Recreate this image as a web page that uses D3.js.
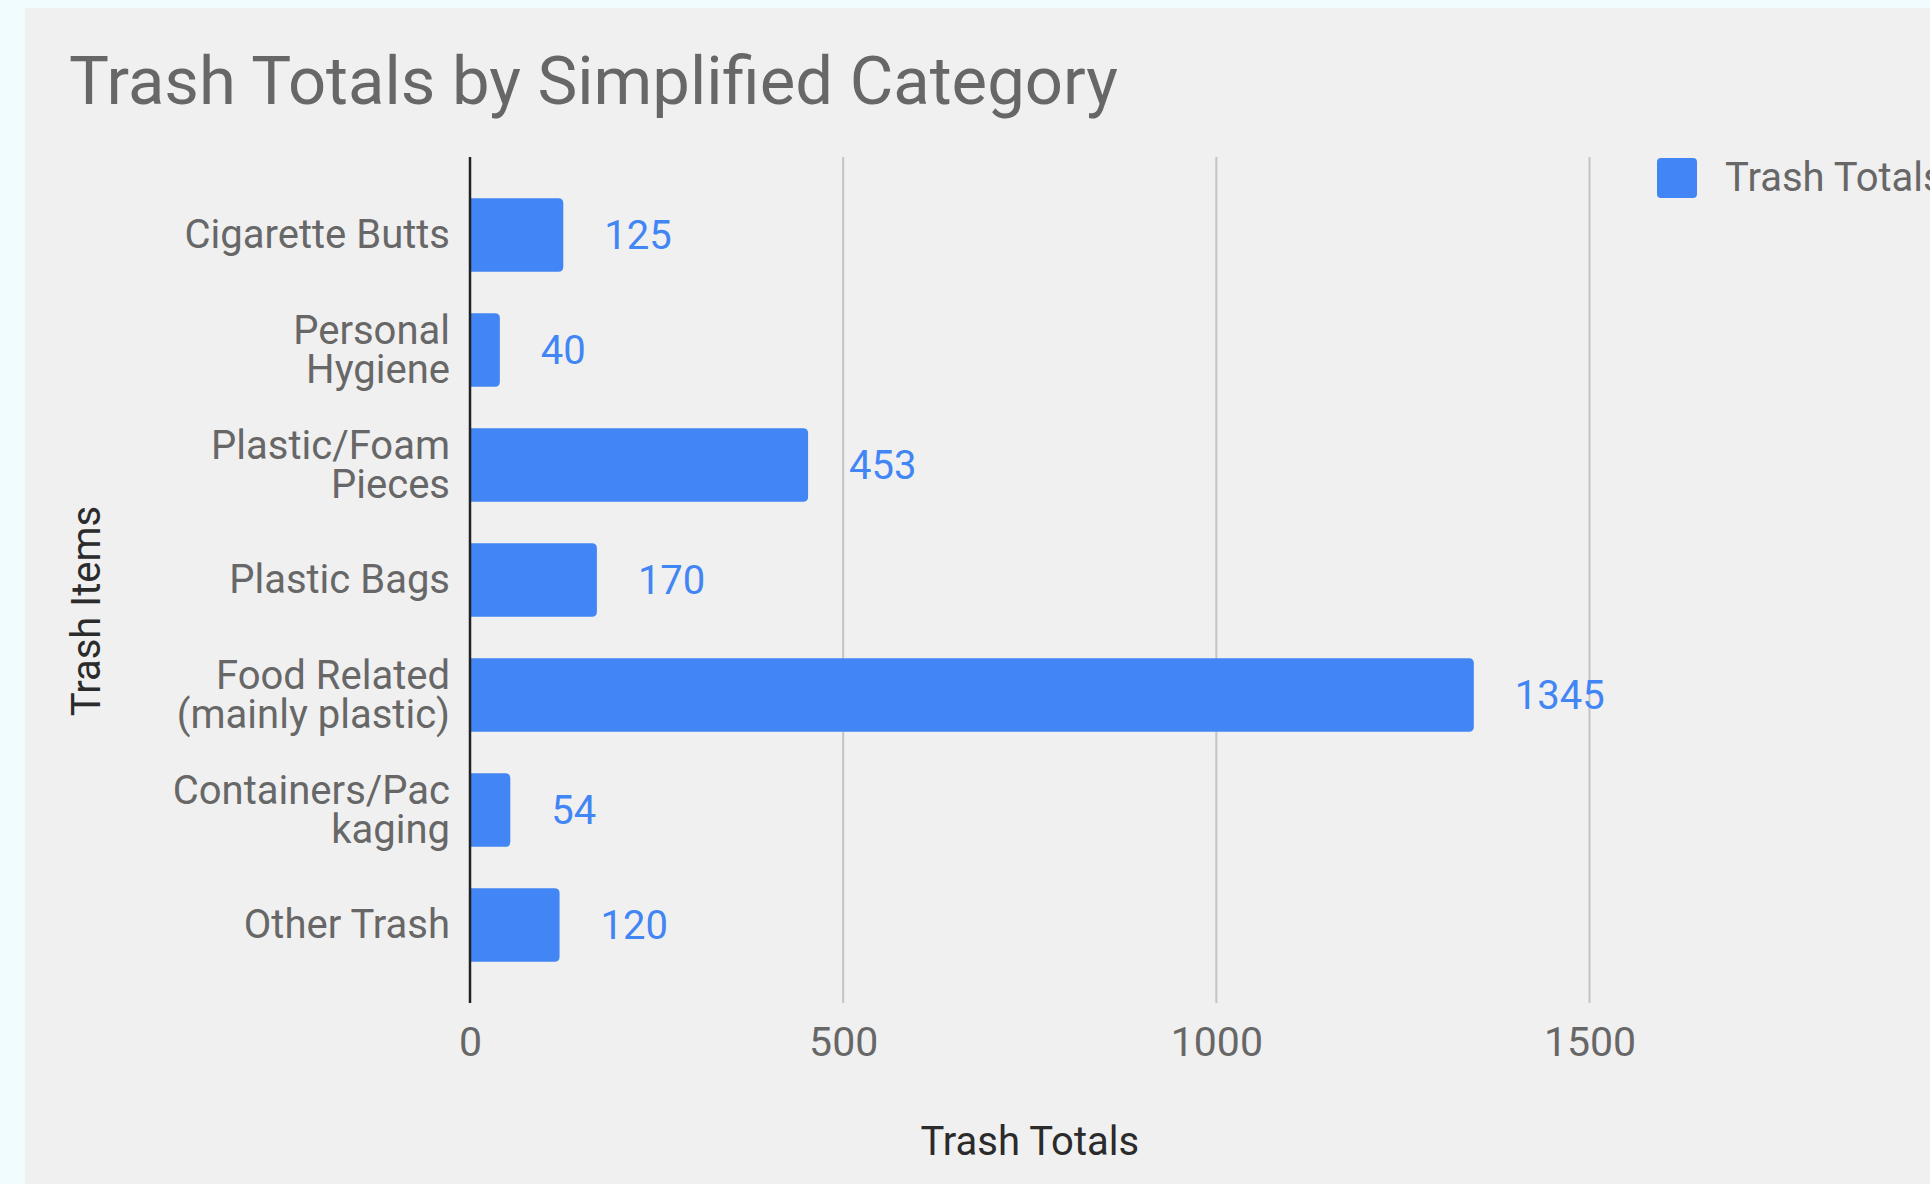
<!DOCTYPE html>
<html>
<head>
<meta charset="utf-8">
<script src="https://d3js.org/d3.v7.min.js"></script>
<style>
  html, body { margin: 0; padding: 0; background: #f1fcfe; }
  svg { display: block; font-family: Roboto, "Noto Sans", sans-serif; }
</style>
</head>
<body>
<script>
const categories = [
  ["Cigarette Butts"],
  ["Personal", "Hygiene"],
  ["Plastic/Foam", "Pieces"],
  ["Plastic Bags"],
  ["Food Related", "(mainly plastic)"],
  ["Containers/Pac", "kaging"],
  ["Other Trash"]
];
const values = [125, 40, 453, 170, 1345, 54, 120];
const xTicks = [0, 500, 1000, 1500];
const seriesName = "Trash Totals";
const titleText = "Trash Totals by Simplified Category";
const xTitle = "Trash Totals";
const yTitle = "Trash Items";

const W = 1930, H = 1184;
const blue = "#4285f4";
const svg = d3.select("body").append("svg").attr("width", W).attr("height", H);

svg.append("rect").attr("x", 25).attr("y", 8).attr("width", W - 25).attr("height", H - 8).attr("fill", "#f0f0f0");

const x = d3.scaleLinear().domain([0, 1500]).range([470, 1589.5]);
const keys = categories.map((c, i) => i);
const y = d3.scaleBand().domain(keys).range([177.5, 982.5]).paddingInner(0.36).paddingOuter(0.18);
const plotTop = 157, plotBottom = 1003;

// title
svg.append("text").attr("x", 69).attr("y", 104).attr("font-size", 67).attr("fill", "#676767").text(titleText);

// gridlines
svg.append("g").selectAll("line").data(xTicks.filter(t => t > 0)).join("line")
  .attr("x1", d => x(d)).attr("x2", d => x(d))
  .attr("y1", plotTop).attr("y2", plotBottom)
  .attr("stroke", "#c4c4c4").attr("stroke-width", 2);

// x tick labels via axis
const xAxis = d3.axisBottom(x).tickValues(xTicks).tickSize(0).tickPadding(0).tickFormat(d3.format("d"));
const gx = svg.append("g").attr("transform", `translate(0,${plotBottom})`).call(xAxis);
gx.select(".domain").remove();
gx.selectAll("text").attr("font-size", 41).attr("fill", "#676767").attr("font-family", "Roboto")
  .attr("dy", null).attr("y", 53);

// bars
const r = 5;
function barPath(x0, x1, y0, h) {
  const rr = Math.min(r, (x1 - x0));
  return `M${x0},${y0} H${x1 - rr} Q${x1},${y0} ${x1},${y0 + rr} V${y0 + h - rr} Q${x1},${y0 + h} ${x1 - rr},${y0 + h} H${x0} Z`;
}
svg.append("g").selectAll("path").data(values).join("path")
  .attr("d", (d, i) => barPath(x(0), x(d), y(i), y.bandwidth()))
  .attr("fill", blue);

// value labels
svg.append("g").selectAll("text").data(values).join("text")
  .attr("x", d => x(d) + 41)
  .attr("y", (d, i) => y(i) + y.bandwidth() / 2 + 14)
  .attr("font-size", 40).attr("fill", blue).text(d => d);

// axis line (y)
svg.append("line").attr("x1", x(0)).attr("x2", x(0)).attr("y1", plotTop).attr("y2", plotBottom)
  .attr("stroke", "#222").attr("stroke-width", 2.5);

// category labels
const lh = 39;
const gl = svg.append("g");
categories.forEach((lines, i) => {
  const cy = y(i) + y.bandwidth() / 2;
  const t = gl.append("text").attr("text-anchor", "end").attr("font-size", 40).attr("fill", "#676767");
  lines.forEach((ln, j) => {
    t.append("tspan").attr("x", 450).attr("y", cy + 13 - (lines.length - 1) * lh / 2 + j * lh).text(ln);
  });
});

// axis titles
svg.append("text").attr("x", (x(0) + x(1500)) / 2).attr("y", 1155).attr("text-anchor", "middle")
  .attr("font-size", 40).attr("fill", "#2b2b2b").text(xTitle);
svg.append("text").attr("transform", "translate(100,611) rotate(-90)").attr("text-anchor", "middle")
  .attr("font-size", 40).attr("fill", "#2b2b2b").text(yTitle);

// legend
const lg = svg.append("g");
lg.append("rect").attr("x", 1657).attr("y", 158).attr("width", 40).attr("height", 40).attr("rx", 4).attr("fill", blue);
lg.append("text").attr("x", 1725).attr("y", 191).attr("font-size", 40).attr("fill", "#676767").text(seriesName);
</script>
</body>
</html>
